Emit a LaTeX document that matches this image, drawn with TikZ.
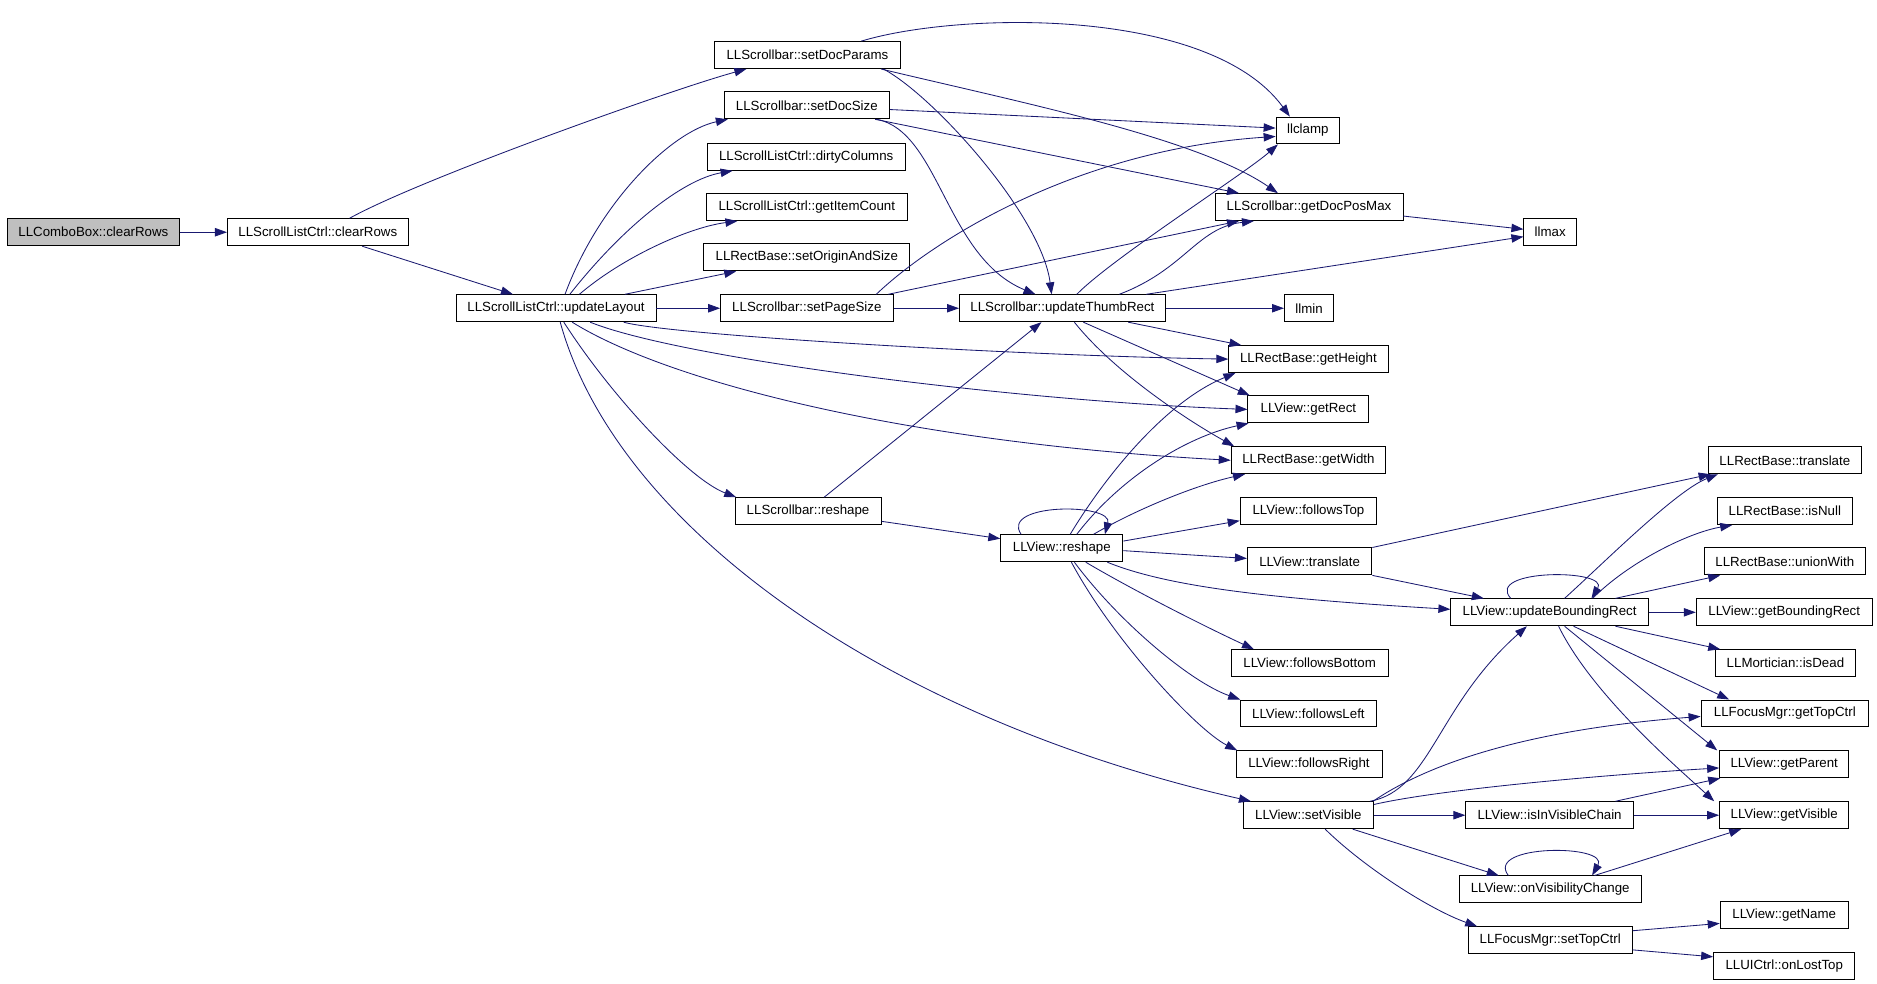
\documentclass[tikz,border=0pt]{standalone}
\usepackage{fontspec}
\setmainfont{Liberation Sans}
\usetikzlibrary{arrows.meta}
\definecolor{edgecol}{HTML}{191970}
\definecolor{rootfill}{HTML}{BFBFBF}
\tikzset{
  fn/.style={draw=black, line width=0.8pt, minimum height=22.5pt, inner sep=0pt,
    font=\fontsize{11.1}{13}\selectfont, text=black},
  call/.style={draw=edgecol, line width=0.7pt, -{Triangle[length=10pt,width=7pt]}, edgecol}
}
\begin{document}
\begin{tikzpicture}[x=1pt,y=-1pt]
\useasboundingbox[fill=white] (0,0) rectangle (1568,822);
% nodes
\node[fn, fill=rootfill, minimum width=144pt] (cb) at (78,194) {LLComboBox::clearRows};
\node[fn, minimum width=151pt] (cr) at (265.5,194) {LLScrollListCtrl::clearRows};
\node[fn, minimum width=155pt] (sdp) at (674.5,46) {LLScrollbar::setDocParams};
\node[fn, minimum width=138pt] (sds) at (674,88) {LLScrollbar::setDocSize};
\node[fn, minimum width=165pt] (dc) at (673.5,131) {LLScrollListCtrl::dirtyColumns};
\node[fn, minimum width=168pt] (gic) at (674,173) {LLScrollListCtrl::getItemCount};
\node[fn, minimum width=172pt] (soas) at (674,215) {LLRectBase::setOriginAndSize};
\node[fn, minimum width=167pt] (ul) at (464.5,257.5) {LLScrollListCtrl::updateLayout};
\node[fn, minimum width=144pt] (sps) at (674,257.5) {LLScrollbar::setPageSize};
\node[fn, minimum width=122pt] (sbr) at (675,427) {LLScrollbar::reshape};
\node[fn, minimum width=53pt] (clamp) at (1092.5,109) {llclamp};
\node[fn, minimum width=157pt] (gdpm) at (1093.5,173) {LLScrollbar::getDocPosMax};
\node[fn, minimum width=44pt] (max) at (1295,194) {llmax};
\node[fn, minimum width=172pt] (utr) at (887.5,257.5) {LLScrollbar::updateThumbRect};
\node[fn, minimum width=41pt] (min) at (1093.5,257.5) {llmin};
\node[fn, minimum width=133pt] (gh) at (1093,300) {LLRectBase::getHeight};
\node[fn, minimum width=101pt] (gr) at (1093,342) {LLView::getRect};
\node[fn, minimum width=129pt] (gw) at (1093,384.5) {LLRectBase::getWidth};
\node[fn, minimum width=128pt] (rbt) at (1491,384.5) {LLRectBase::translate};
\node[fn, minimum width=102pt] (vr) at (887,458) {LLView::reshape};
\node[fn, minimum width=114pt] (ft) at (1093,427) {LLView::followsTop};
\node[fn, minimum width=104pt] (vt) at (1094,469) {LLView::translate};
\node[fn, minimum width=113pt] (isnull) at (1491,427) {LLRectBase::isNull};
\node[fn, minimum width=135pt] (uw) at (1491,469) {LLRectBase::unionWith};
\node[fn, minimum width=165pt] (ubr) at (1294.5,511.5) {LLView::updateBoundingRect};
\node[fn, minimum width=147pt] (gbr) at (1490.5,511.5) {LLView::getBoundingRect};
\node[fn, minimum width=117pt] (dead) at (1491.5,554) {LLMortician::isDead};
\node[fn, minimum width=131pt] (fb) at (1094,554) {LLView::followsBottom};
\node[fn, minimum width=114pt] (fl) at (1093,596) {LLView::followsLeft};
\node[fn, minimum width=140pt] (gtc) at (1491,596) {LLFocusMgr::getTopCtrl};
\node[fn, minimum width=122pt] (fr) at (1093.5,638.5) {LLView::followsRight};
\node[fn, minimum width=108pt] (gp) at (1490.5,638.5) {LLView::getParent};
\node[fn, minimum width=109pt] (sv) at (1093,681) {LLView::setVisible};
\node[fn, minimum width=140pt] (ivc) at (1294.5,681) {LLView::isInVisibleChain};
\node[fn, minimum width=108pt] (gv) at (1490.5,681) {LLView::getVisible};
\node[fn, minimum width=152pt] (ovc) at (1295,743) {LLView::onVisibilityChange};
\node[fn, minimum width=107pt] (gn) at (1490.5,764) {LLView::getName};
\node[fn, minimum width=137pt] (stc) at (1295,785.5) {LLFocusMgr::setTopCtrl};
\node[fn, minimum width=118pt] (olt) at (1490.5,807) {LLUICtrl::onLostTop};
% edges
\draw[call] (cb.east) -- (cr.west);
\draw[call] ([xshift=26.5pt]cr.north) .. controls (350,150) and (560,75) .. ([xshift=-51pt]sdp.south);
\draw[call] ([xshift=37pt]cr.south) -- ([xshift=-36pt]ul.north);
\draw[call] ([xshift=7.5pt]ul.north) .. controls (500,170) and (560,110) .. ([xshift=-66pt]sds.south);
\draw[call] ([xshift=11.5pt]ul.north) .. controls (520,190) and (570,150) .. ([xshift=-61.5pt]dc.south);
\draw[call] ([xshift=19.5pt]ul.north) .. controls (520,215) and (575,190) .. ([xshift=-58pt]gic.south);
\draw[call] ([xshift=57.5pt]ul.north) -- ([xshift=-59pt]soas.south);
\draw[call] (ul.east) -- (sps.west);
\draw[call] ([xshift=56.5pt]ul.south) .. controls (560,280) and (850,297) .. (gh.west);
\draw[call] ([xshift=28.5pt]ul.south) .. controls (570,300) and (850,335) .. (gr.west);
\draw[call] ([xshift=13.5pt]ul.south) .. controls (560,320) and (760,370) .. (gw.west);
\draw[call] ([xshift=6.5pt]ul.south) .. controls (510,330) and (575,400) .. ([xshift=-60pt]sbr.north);
\draw[call] ([xshift=3.5pt]ul.south) .. controls (515,440) and (740,600) .. ([xshift=-48pt]sv.north);
\draw[call] ([xshift=45pt]sdp.north) .. controls (800,10) and (1010,5) .. ([xshift=-15pt]clamp.north);
\draw[call] ([xshift=61.5pt]sdp.south) .. controls (850,85) and (1000,115) .. ([xshift=-26pt]gdpm.north);
\draw[call] ([xshift=63.5pt]sdp.south) .. controls (780,80) and (870,180) .. ([xshift=-9pt]utr.north);
\draw[call] ([yshift=-3.5pt]sds.east) -- ([yshift=2pt]clamp.west);
\draw[call] ([xshift=57pt]sds.south) -- ([xshift=-58.5pt]gdpm.north);
\draw[call] ([xshift=58.5pt]sds.south) .. controls (785,110) and (790,215) .. ([xshift=-22.5pt]utr.north);
\draw[call] ([xshift=58pt]sps.north) .. controls (780,200) and (900,125) .. ([yshift=-5pt]clamp.west);
\draw[call] ([xshift=68pt]sps.north) -- ([xshift=-58.5pt]gdpm.south);
\draw[call] (sps.east) -- (utr.west);
\draw[call] ([xshift=12pt]utr.north) .. controls (930,215) and (1040,145) .. ([xshift=-25pt]clamp.south);
\draw[call] ([xshift=47.5pt]utr.north) .. controls (990,225) and (1000,190) .. ([xshift=-46pt]gdpm.south);
\draw[call] ([xshift=70pt]utr.north) -- ([yshift=-3.7pt]max.west);
\draw[call] (utr.east) -- (min.west);
\draw[call] ([xshift=55pt]utr.south) -- ([xshift=-56pt]gh.north);
\draw[call] ([xshift=17.5pt]utr.south) -- ([xshift=-49pt]gr.north);
\draw[call] ([xshift=10pt]utr.south) .. controls (930,310) and (990,350) .. ([xshift=-62pt]gw.north);
\draw[call] ([xshift=13.5pt]sbr.north) -- ([xshift=-17.5pt]utr.south);
\draw[call] ([yshift=-8.5pt]sbr.east) -- ([yshift=8pt]vr.west);
\draw[call] ([yshift=-7.5pt]gdpm.east) -- ([yshift=2.5pt]max.west);
\draw[call] ([xshift=-34pt]vr.north) .. controls (835,420) and (930,420) .. ([xshift=36pt]vr.north);
\draw[call] ([xshift=7pt]vr.north) .. controls (925,395) and (975,335) .. ([xshift=-61pt]gh.south);
\draw[call] ([xshift=12.5pt]vr.north) .. controls (935,400) and (990,365) .. ([xshift=-50pt]gr.south);
\draw[call] ([xshift=26.5pt]vr.north) .. controls (950,425) and (1000,405) .. ([xshift=-53pt]gw.south);
\draw[call] ([yshift=6pt]vr.east) -- ([yshift=-8pt]ft.west);
\draw[call] ([yshift=-2pt]vr.east) -- ([yshift=2.5pt]vt.west);
\draw[call] ([xshift=38pt]vr.south) .. controls (975,490) and (1060,500) .. ([yshift=2.5pt]ubr.west);
\draw[call] ([xshift=20pt]vr.south) .. controls (950,495) and (1010,525) .. ([xshift=-46.5pt]fb.north);
\draw[call] ([xshift=10.5pt]vr.south) .. controls (935,520) and (995,570) .. ([xshift=-57pt]fl.north);
\draw[call] ([xshift=8pt]vr.south) .. controls (930,535) and (1000,610) .. ([xshift=-60pt]fr.north);
\draw[call] (vt.north east) -- ([xshift=-62pt]rbt.south);
\draw[call] (vt.south east) -- ([xshift=-55pt]ubr.north);
\draw[call] ([xshift=-32.5pt]ubr.north) .. controls (1240,475) and (1345,475) .. ([xshift=35pt]ubr.north);
\draw[call] ([xshift=12.5pt]ubr.north) .. controls (1340,470) and (1400,410) .. ([xshift=-56pt]rbt.south);
\draw[call] ([xshift=36pt]ubr.north) .. controls (1360,470) and (1410,445) .. ([xshift=-44pt]isnull.south);
\draw[call] ([xshift=55pt]ubr.north) -- ([xshift=-54pt]uw.south);
\draw[call] (ubr.east) -- (gbr.west);
\draw[call] ([xshift=55pt]ubr.south) -- ([xshift=-54.5pt]dead.north);
\draw[call] ([xshift=20pt]ubr.south) -- ([xshift=-46.5pt]gtc.north);
\draw[call] ([xshift=12.5pt]ubr.south) -- ([xshift=-56pt]gp.north);
\draw[call] ([xshift=7.5pt]ubr.south) .. controls (1330,580) and (1400,640) .. ([xshift=-58.5pt]gv.north);
\draw[call] ([xshift=51.5pt]sv.north) .. controls (1195,660) and (1200,590) .. ([xshift=-19pt]ubr.south);
\draw[call] ([xshift=54pt]sv.north) .. controls (1190,640) and (1270,610) .. ([yshift=-2.5pt]gtc.west);
\draw[call] ([yshift=9pt]sv.east) .. controls (1200,660) and (1330,648) .. ([yshift=-3pt]gp.west);
\draw[call] (sv.east) -- (ivc.west);
\draw[call] ([xshift=37pt]sv.south) -- ([xshift=-43pt]ovc.north);
\draw[call] ([xshift=14pt]sv.south) .. controls (1140,725) and (1195,760) .. ([xshift=-61pt]stc.north);
\draw[call] ([xshift=55pt]ivc.north) -- ([xshift=-53.5pt]gp.south);
\draw[call] (ivc.east) -- (gv.west);
\draw[call] ([xshift=-35pt]ovc.north) .. controls (1240,705) and (1345,705) .. ([xshift=35pt]ovc.north);
\draw[call] ([xshift=37pt]ovc.north) -- ([xshift=-36pt]gv.south);
\draw[call] ([yshift=8pt]stc.east) -- ([yshift=-7.4pt]gn.west);
\draw[call] ([yshift=-8pt]stc.east) -- ([yshift=7.7pt]olt.west);
\end{tikzpicture}
\end{document}
